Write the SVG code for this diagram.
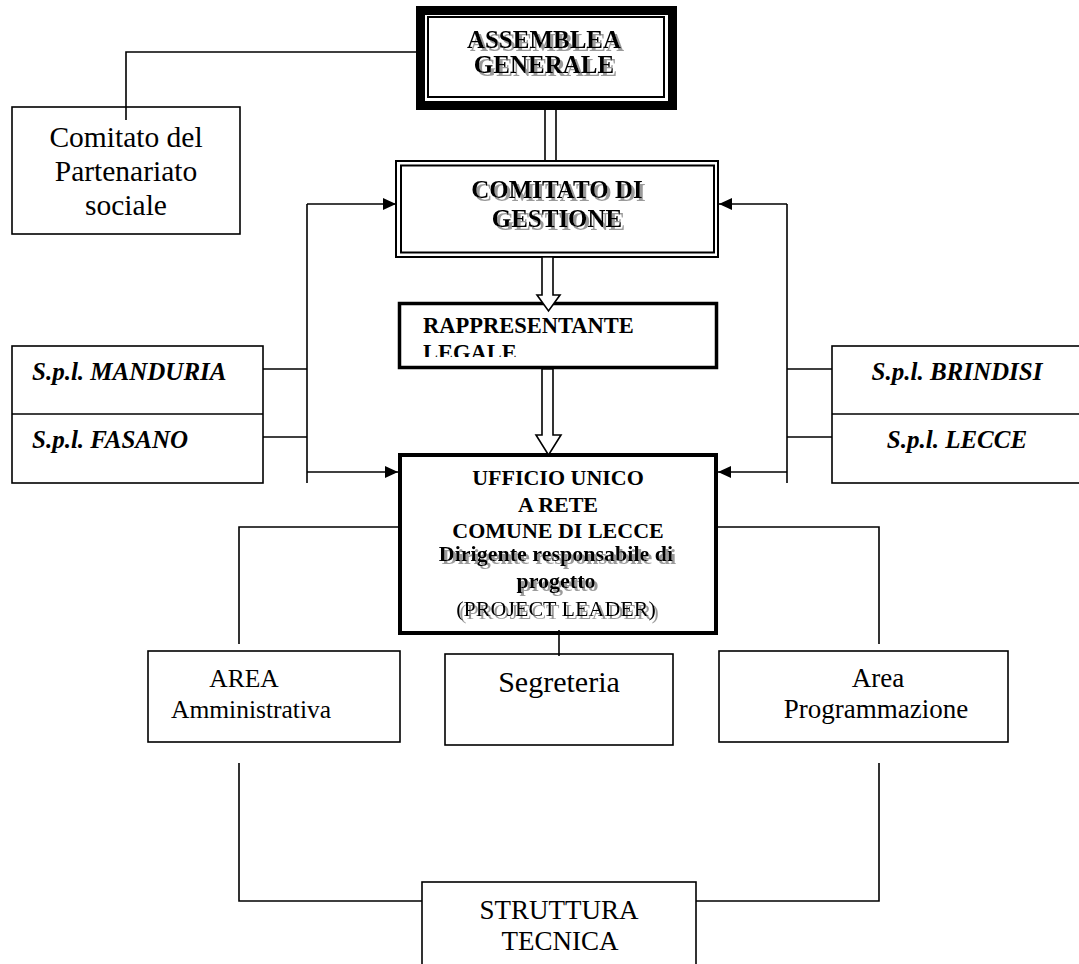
<svg xmlns="http://www.w3.org/2000/svg" width="1079" height="964" viewBox="0 0 1079 964">
  <style>
    .box { fill: #fff; stroke: #000; stroke-width: 1.6; }
    .thick { fill: #fff; stroke: #000; stroke-width: 3.5; }
    .ln { fill: none; stroke: #000; stroke-width: 1.6; }
    .hollow { fill: #fff; stroke: #000; stroke-width: 1.6; stroke-linejoin: miter; }
    .t { font-family: "Liberation Serif", "Times New Roman", serif; fill: #000; }
    .b { font-weight: bold; }
    .bi { font-weight: bold; font-style: italic; }
    .c { text-anchor: middle; }
    .sh { filter: url(#shadow); }
  </style>
  <defs>
    <filter id="shadow" x="-5%" y="-20%" width="115%" height="150%">
      <feOffset in="SourceAlpha" dx="2.5" dy="2.5" result="off"/>
      <feFlood flood-color="#9a9a9a"/>
      <feComposite in2="off" operator="in" result="grey"/>
      <feMerge>
        <feMergeNode in="grey"/>
        <feMergeNode in="SourceGraphic"/>
      </feMerge>
    </filter>
    <marker id="arrow" markerUnits="userSpaceOnUse" markerWidth="13" markerHeight="12" refX="13" refY="6" orient="auto">
      <path d="M0,0 L13,6 L0,12 Z" fill="#000"/>
    </marker>
    <clipPath id="legale-clip">
      <rect x="400" y="305" width="316" height="52"/>
    </clipPath>
  </defs>

  <rect width="1079" height="964" fill="#fff"/>

  <!-- nodes -->
  <g id="assemblea">
    <rect x="420.5" y="10.5" width="252" height="95" fill="#fff" stroke="#000" stroke-width="9"/>
    <rect x="428" y="17" width="236" height="80" fill="none" stroke="#000" stroke-width="2"/>
    <g class="sh">
      <text class="t b c" x="544" y="48" font-size="25">ASSEMBLEA</text>
      <text class="t b c" x="544" y="73" font-size="25">GENERALE</text>
    </g>
  </g>

  <g id="comitato-partenariato">
    <rect class="box" x="12" y="107" width="228" height="127"/>
    <text class="t c" x="126" y="147" font-size="29.5">Comitato del</text>
    <text class="t c" x="126" y="181" font-size="29.5">Partenariato</text>
    <text class="t c" x="126" y="215" font-size="29.5">sociale</text>
  </g>

  <g id="comitato-gestione">
    <rect x="396" y="161" width="322" height="96" fill="#fff" stroke="#000" stroke-width="2"/>
    <rect x="401" y="165.5" width="313" height="87" fill="none" stroke="#000" stroke-width="2"/>
    <g class="sh">
      <text class="t b c" x="557" y="198" font-size="25">COMITATO DI</text>
      <text class="t b c" x="557" y="227" font-size="25">GESTIONE</text>
    </g>
  </g>

  <g id="rappresentante-legale">
    <rect class="thick" x="399.5" y="303.5" width="317" height="64"/>
    <g clip-path="url(#legale-clip)">
      <text class="t b" x="423" y="333" font-size="22.5">RAPPRESENTANTE</text>
      <text class="t b" x="423" y="360" font-size="22.5">LEGALE</text>
    </g>
  </g>

  <g id="spl-sinistra">
    <rect class="box" x="12" y="346" width="251" height="137"/>
    <line class="ln" x1="12" y1="414" x2="263" y2="414"/>
    <text class="t bi" x="32" y="380" font-size="25">S.p.l. MANDURIA</text>
    <text class="t bi" x="32" y="448" font-size="25">S.p.l. FASANO</text>
  </g>

  <g id="spl-destra">
    <rect class="box" x="832" y="346" width="252" height="137"/>
    <line class="ln" x1="832" y1="414" x2="1084" y2="414"/>
    <text class="t bi c" x="957" y="380" font-size="25">S.p.l. BRINDISI</text>
    <text class="t bi c" x="957" y="448" font-size="25">S.p.l. LECCE</text>
  </g>

  <g id="ufficio-unico">
    <rect x="400" y="455" width="316" height="178" fill="#fff" stroke="#000" stroke-width="4"/>
    <text class="t b c" x="558" y="485" font-size="22">UFFICIO UNICO</text>
    <text class="t b c" x="558" y="512" font-size="22">A RETE</text>
    <text class="t b c" x="558" y="538" font-size="22">COMUNE DI LECCE</text>
    <g class="sh">
      <text class="t b c" x="556" y="561" font-size="22">Dirigente responsabile di</text>
      <text class="t b c" x="556" y="588" font-size="22">progetto</text>
      <text class="t c" x="556" y="616" font-size="22">(PROJECT LEADER)</text>
    </g>
  </g>

  <g id="area-amministrativa">
    <rect class="box" x="148" y="651" width="252" height="91"/>
    <text class="t c" x="244" y="687" font-size="25.5">AREA</text>
    <text class="t c" x="251" y="718" font-size="25.5">Amministrativa</text>
  </g>

  <g id="segreteria">
    <rect class="box" x="445" y="654" width="228" height="91"/>
    <text class="t c" x="559" y="692" font-size="30">Segreteria</text>
  </g>

  <g id="area-programmazione">
    <rect class="box" x="719" y="651" width="289" height="91"/>
    <text class="t c" x="878" y="687" font-size="27">Area</text>
    <text class="t c" x="876" y="718" font-size="27">Programmazione</text>
  </g>

  <g id="struttura-tecnica">
    <rect class="box" x="422" y="882" width="274" height="90"/>
    <text class="t c" x="559" y="919" font-size="27">STRUTTURA</text>
    <text class="t c" x="560" y="950" font-size="27">TECNICA</text>
  </g>

  <!-- connectors -->
  <g id="connectors">
    <!-- assemblea to comitato del partenariato -->
    <polyline class="ln" points="416,52 126,52 126,120"/>
    <!-- assemblea to comitato di gestione: double line -->
    <line class="ln" x1="545" y1="110" x2="545" y2="162"/>
    <line class="ln" x1="556" y1="110" x2="556" y2="162"/>
    <!-- hollow block arrows down the spine -->
    <polygon class="hollow" points="542,257 542,295 537,295 548.5,311 560,295 553,295 553,257"/>
    <polygon class="hollow" points="542,369 542,435 536,435 548.5,455 561,435 553,435 553,369"/>

    <!-- left bus from S.p.l. boxes -->
    <line class="ln" x1="307" y1="204" x2="307" y2="483"/>
    <line class="ln" x1="307" y1="204" x2="396" y2="204" marker-end="url(#arrow)"/>
    <line class="ln" x1="263" y1="369" x2="307" y2="369"/>
    <line class="ln" x1="263" y1="437" x2="307" y2="437"/>
    <line class="ln" x1="307" y1="472" x2="398" y2="472" marker-end="url(#arrow)"/>

    <!-- right bus from S.p.l. boxes -->
    <line class="ln" x1="787" y1="204" x2="787" y2="483"/>
    <line class="ln" x1="787" y1="204" x2="719" y2="204" marker-end="url(#arrow)"/>
    <line class="ln" x1="832" y1="369" x2="787" y2="369"/>
    <line class="ln" x1="832" y1="437" x2="787" y2="437"/>
    <line class="ln" x1="787" y1="472" x2="718" y2="472" marker-end="url(#arrow)"/>

    <!-- ufficio unico to areas -->
    <polyline class="ln" points="398,527 239,527 239,644"/>
    <polyline class="ln" points="718,527 879,527 879,644"/>
    <line class="ln" x1="559" y1="630" x2="559" y2="656"/>

    <!-- areas to struttura tecnica -->
    <polyline class="ln" points="239,763 239,901 422,901"/>
    <polyline class="ln" points="879,763 879,901 696,901"/>
  </g>
</svg>
